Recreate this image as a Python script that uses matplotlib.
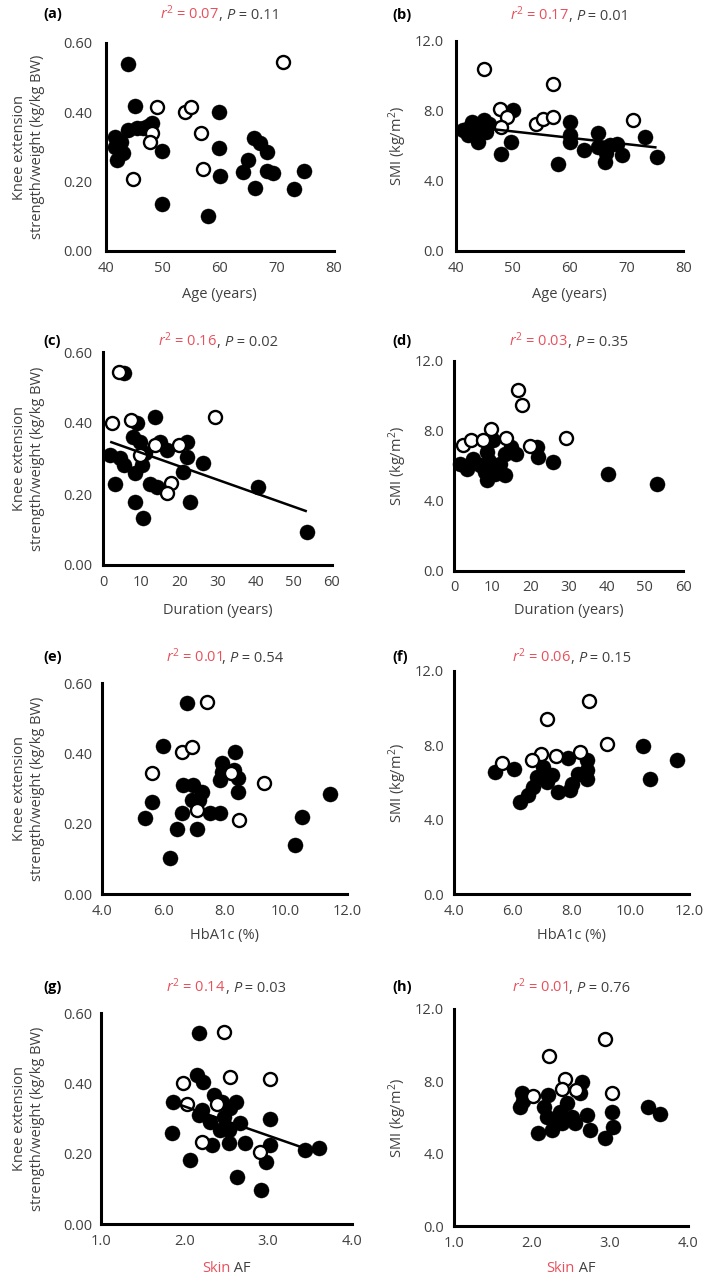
import matplotlib
matplotlib.use("Agg")
import matplotlib.pyplot as plt
import numpy as np
from matplotlib.offsetbox import TextArea, HPacker, AnchoredOffsetbox

plt.rcParams['font.family'] = ['Open Sans', 'DejaVu Sans']
plt.rcParams['mathtext.fontset'] = 'custom'
plt.rcParams['mathtext.rm'] = 'Open Sans'
plt.rcParams['mathtext.it'] = 'Open Sans:italic'

# ---------------- data ----------------
# (a) Age vs knee extension
a_fill_x = [44.0, 45.2, 41.7, 41.7, 42.0, 43.1, 44.0, 45.5, 46.6, 48.1, 49.9, 49.9, 58.0, 59.9, 59.9, 60.0,
            64.0, 65.0, 66.0, 67.0, 68.2, 66.2, 68.2, 69.4, 73.0, 74.8, 42.8, 47.5]
a_fill_y = [0.539, 0.418, 0.330, 0.301, 0.262, 0.282, 0.349, 0.354, 0.354, 0.368, 0.288, 0.136, 0.101, 0.402,
            0.298, 0.217, 0.227, 0.262, 0.327, 0.312, 0.286, 0.183, 0.232, 0.224, 0.179, 0.232, 0.315, 0.360]
a_open_x = [44.9, 48.1, 47.8, 49.1, 53.9, 54.9, 56.8, 57.0, 71.0]
a_open_y = [0.208, 0.341, 0.315, 0.416, 0.402, 0.414, 0.341, 0.236, 0.546]

# (b) Age vs SMI
b_fill_x = [41.3, 42.2, 42.8, 43.1, 44.0, 44.6, 44.9, 45.8, 45.4, 48.0, 49.8, 50.1, 58.0, 60.0, 60.0, 60.0,
            62.6, 65.0, 65.0, 66.3, 66.5, 67.1, 68.3, 69.3, 73.3, 75.3, 42.0]
b_fill_y = [6.90, 6.62, 7.38, 7.28, 6.24, 6.81, 7.47, 7.28, 6.81, 5.57, 6.24, 8.04, 5.00, 7.38, 6.62, 6.24,
            5.80, 6.73, 5.95, 5.08, 5.62, 6.05, 6.14, 5.48, 6.52, 5.40, 7.00]
b_open_x = [45.0, 57.05, 47.8, 49.0, 48.0, 54.1, 55.3, 57.05, 71.2]
b_open_y = [10.42, 9.53, 8.14, 7.63, 7.09, 7.24, 7.57, 7.63, 7.47]
b_fit = [8.65, -0.0363]  # intercept, slope

# (c) Duration vs knee extension
c_fill_x = [5.3, 13.6, 8.8, 7.9, 9.6, 14.9, 16.6, 21.9, 21.9, 1.8, 4.4, 5.3, 10.1, 8.3, 10.9, 26.2, 21.0,
            3.1, 12.3, 14.0, 8.3, 22.7, 10.3, 40.7, 53.4]
c_fill_y = [0.540, 0.416, 0.399, 0.361, 0.347, 0.347, 0.324, 0.347, 0.305, 0.310, 0.301, 0.282, 0.282, 0.258,
            0.315, 0.286, 0.263, 0.228, 0.228, 0.221, 0.178, 0.177, 0.132, 0.221, 0.094]
c_open_x = [4.2, 2.2, 7.2, 29.3, 9.5, 13.6, 19.9, 17.7, 16.8]
c_open_y = [0.545, 0.399, 0.408, 0.416, 0.310, 0.338, 0.338, 0.230, 0.202]
c_fit = [0.354, -0.0038]

# (d) Duration vs SMI
d_fill_x = [1.5, 3.3, 5.0, 8.5, 10.2, 8.1, 8.5, 10.7, 13.3, 13.3, 15.0, 16.3, 12.0, 21.6, 22.0, 26.0, 40.4,
            53.1, 6.7, 9.0]
d_fill_y = [6.12, 5.84, 6.41, 6.79, 7.46, 5.64, 5.17, 5.55, 5.45, 6.70, 7.08, 6.70, 6.12, 7.08, 6.50, 6.22,
            5.55, 4.98, 6.03, 6.30]
d_open_x = [16.8, 17.7, 9.5, 2.2, 4.3, 7.4, 13.6, 19.9, 29.4]
d_open_y = [10.32, 9.46, 8.13, 7.21, 7.46, 7.46, 7.59, 7.11, 7.59]

# (e) HbA1c vs knee extension
e_fill_x = [6.78, 6.01, 8.35, 7.92, 7.92, 8.30, 7.86, 8.46, 8.43, 6.66, 6.99, 7.27, 6.94, 5.63, 5.41, 6.61,
            7.54, 7.86, 6.45, 7.12, 6.23, 11.45, 10.53, 10.31, 7.18]
e_fill_y = [0.543, 0.421, 0.405, 0.372, 0.348, 0.353, 0.325, 0.329, 0.291, 0.310, 0.310, 0.291, 0.268, 0.263,
            0.216, 0.230, 0.232, 0.230, 0.184, 0.184, 0.103, 0.285, 0.220, 0.140, 0.268]
e_open_x = [7.43, 6.61, 6.94, 5.63, 8.22, 9.28, 7.12, 8.49]
e_open_y = [0.548, 0.405, 0.419, 0.344, 0.344, 0.317, 0.239, 0.211]

# (f) HbA1c vs SMI
f_fill_x = [5.40, 6.04, 10.44, 11.58, 10.67, 6.25, 6.53, 6.70, 6.82, 7.04, 7.16, 7.33, 7.55, 7.95, 8.01,
            7.89, 8.52, 8.52, 8.52, 8.23, 6.90]
f_fill_y = [6.57, 6.75, 7.94, 7.23, 6.21, 4.95, 5.31, 5.76, 6.30, 6.83, 6.03, 6.39, 5.49, 5.58, 5.94,
            7.34, 6.66, 6.21, 7.19, 6.48, 6.30]
f_open_x = [8.61, 7.16, 9.22, 8.29, 7.47, 6.95, 6.64, 5.62]
f_open_y = [10.38, 9.43, 8.09, 7.64, 7.41, 7.55, 7.19, 7.05]

# (g) Skin AF vs knee extension
g_fill_x = [2.18, 2.15, 2.22, 1.87, 1.85, 2.07, 2.21, 2.17, 2.35, 2.31, 2.33, 2.45, 2.47, 2.55, 2.62, 2.53,
            2.53, 2.67, 2.73, 2.63, 3.02, 3.02, 2.98, 2.92, 3.44, 3.61, 2.43]
g_fill_y = [0.543, 0.424, 0.405, 0.348, 0.260, 0.182, 0.325, 0.310, 0.367, 0.291, 0.225, 0.348, 0.305, 0.329,
            0.348, 0.268, 0.230, 0.287, 0.230, 0.135, 0.298, 0.225, 0.177, 0.097, 0.211, 0.216, 0.268]
g_open_x = [2.47, 2.55, 3.02, 1.98, 2.03, 2.39, 2.21, 2.90]
g_open_y = [0.548, 0.419, 0.413, 0.401, 0.342, 0.342, 0.234, 0.206]
g_fit = [0.501, -0.083]

# (h) Skin AF vs SMI
h_fill_x = [1.87, 1.85, 2.64, 2.21, 2.15, 2.19, 2.08, 2.25, 2.30, 2.36, 2.45, 2.38, 2.51, 2.55, 2.70, 2.74,
            2.62, 3.02, 3.04, 2.94, 3.49, 3.64, 1.88]
h_fill_y = [7.34, 6.60, 7.98, 7.25, 6.60, 6.05, 5.13, 5.31, 5.86, 6.32, 6.79, 5.68, 6.05, 5.68, 6.14, 5.31,
            7.34, 6.32, 5.49, 4.85, 6.60, 6.19, 6.90]
h_open_x = [2.94, 2.22, 2.42, 2.39, 2.57, 2.01, 3.03]
h_open_y = [10.33, 9.40, 8.11, 7.56, 7.52, 7.19, 7.34]

# statistics text
r2_vals = ["0.07", "0.17", "0.16", "0.03", "0.01", "0.06", "0.14", "0.01"]
p_vals = ["0.11", "0.01", "0.02", "0.35", "0.54", "0.15", "0.03", "0.76"]
panel_tags = ["(a)", "(b)", "(c)", "(d)", "(e)", "(f)", "(g)", "(h)"]

knee_ticks = [0.0, 0.2, 0.4, 0.6]
knee_labels = ["0.00", "0.20", "0.40", "0.60"]
smi_ticks = [0.0, 4.0, 8.0, 12.0]
smi_labels = ["0.0", "4.0", "8.0", "12.0"]
age_ticks = [40, 50, 60, 70, 80]
dur_ticks = [0, 10, 20, 30, 40, 50, 60]
hba_ticks = [4, 6, 8, 10, 12]
hba_labels = ["4.0", "6.0", "8.0", "10.0", "12.0"]
af_ticks = [1, 2, 3, 4]
af_labels = ["1.0", "2.0", "3.0", "4.0"]

knee_label = "Knee extension\nstrength/weight (kg/kg BW)"
smi_label = "SMI (kg/m$^2$)"

# ---------------- style ----------------
W, H = 709, 1277
RED = "#e8505b"
GRAY = "#404040"
FS = 10.5

fig = plt.figure(figsize=(W / 100, H / 100), dpi=100)

# panel boxes in pixels: left, top, right, bottom ; title y ; xlabel y
boxes = [
    (105.5, 43, 334, 251, 14, 295),
    (455.7, 41, 683.3, 251, 15, 295),
    (103.3, 352, 332, 565, 341, 611),
    (454.3, 361, 683, 570.5, 341, 611),
    (101.7, 683.3, 347, 894, 657, 935),
    (454, 671, 689, 894, 657, 935),
    (100.7, 1013.3, 351.7, 1224, 987, 1268),
    (454, 1009, 688, 1226, 987, 1268),
]

panels = [
    (a_fill_x, a_fill_y, a_open_x, a_open_y, None, "knee", age_ticks, [str(t) for t in age_ticks], [("Age (years)", GRAY, "normal")]),
    (b_fill_x, b_fill_y, b_open_x, b_open_y, b_fit, "smi", age_ticks, [str(t) for t in age_ticks], [("Age (years)", GRAY, "normal")]),
    (c_fill_x, c_fill_y, c_open_x, c_open_y, c_fit, "knee", dur_ticks, [str(t) for t in dur_ticks], [("Duration (years)", GRAY, "normal")]),
    (d_fill_x, d_fill_y, d_open_x, d_open_y, None, "smi", dur_ticks, [str(t) for t in dur_ticks], [("Duration (years)", GRAY, "normal")]),
    (e_fill_x, e_fill_y, e_open_x, e_open_y, None, "knee", hba_ticks, hba_labels, [("HbA1c (%)", GRAY, "normal")]),
    (f_fill_x, f_fill_y, f_open_x, f_open_y, None, "smi", hba_ticks, hba_labels, [("HbA1c (%)", GRAY, "normal")]),
    (g_fill_x, g_fill_y, g_open_x, g_open_y, g_fit, "knee", af_ticks, af_labels, [("Skin", RED, "normal"), (" AF", GRAY, "normal")]),
    (h_fill_x, h_fill_y, h_open_x, h_open_y, None, "smi", af_ticks, af_labels, [("Skin", RED, "normal"), (" AF", GRAY, "normal")]),
]


def packed_text(parts, x_px, y_px, fontsize=FS):
    children = [TextArea(t, textprops=dict(color=c, fontsize=fontsize, fontstyle=st)) for t, c, st in parts]
    box = HPacker(children=children, align="baseline", pad=0, sep=0)
    anch = AnchoredOffsetbox(loc="center", child=box, pad=0, borderpad=0, frameon=False,
                             bbox_to_anchor=(x_px / W, 1 - y_px / H),
                             bbox_transform=fig.transFigure)
    fig.add_artist(anch)


for i, (box, pan) in enumerate(zip(boxes, panels)):
    l, t, r, b, ty, xly = box
    fx, fy, ox, oy, fit, kind, xt, xtl, xlab = pan
    ax = fig.add_axes([l / W, 1 - b / H, (r - l) / W, (b - t) / H])
    ax.scatter(fx, fy, s=118, c="black", edgecolors="black", linewidths=0.3, zorder=3, clip_on=False)
    ax.scatter(ox, oy, s=88, facecolors="white", edgecolors="black", linewidths=1.7, zorder=4, clip_on=False)
    if fit is not None:
        allx = np.concatenate([fx, ox])
        xs = np.array([allx.min(), allx.max()])
        ax.plot(xs, fit[0] + fit[1] * xs, color="black", lw=1.8, zorder=5, solid_capstyle="butt")
    ax.set_xlim(xt[0], xt[-1])
    ax.set_xticks(xt)
    ax.set_xticklabels(xtl)
    if kind == "knee":
        ax.set_ylim(0, 0.6)
        ax.set_yticks(knee_ticks)
        ax.set_yticklabels(knee_labels)
        ypad = (l - 92) * 0.72
    else:
        ax.set_ylim(0, 12)
        ax.set_yticks(smi_ticks)
        ax.set_yticklabels(smi_labels)
        ypad = (l - 444) * 0.72
    for s in ["top", "right"]:
        ax.spines[s].set_visible(False)
    for s in ["left", "bottom"]:
        ax.spines[s].set_linewidth(2.2)
        ax.spines[s].set_color("black")
        ax.spines[s].set_capstyle("projecting")
    ax.tick_params(axis="y", length=0, pad=ypad, labelsize=FS, labelcolor=GRAY)
    ax.tick_params(axis="x", length=0, pad=7, labelsize=FS, labelcolor=GRAY)
    ax.patch.set_alpha(0)

    cx = (l + r) / 2
    # title with statistics
    packed_text([("$r^2$ = " + r2_vals[i], RED, "normal"), (", ", GRAY, "normal"),
                 ("P", GRAY, "italic"), (" = " + p_vals[i], GRAY, "normal")], cx, ty)
    # panel tag
    tagx = 43 if i % 2 == 0 else 392
    fig.text(tagx / W, 1 - ty / H, panel_tags[i], fontsize=FS, fontweight="bold", color="black",
             ha="left", va="center")
    # x label
    packed_text(xlab, cx, xly)
    # y label
    ylx = 28.5 if kind == "knee" else 398
    fig.text(ylx / W, 1 - ((t + b) / 2) / H, knee_label if kind == "knee" else smi_label,
             rotation=90, ha="center", va="center", multialignment="center",
             fontsize=FS, color=GRAY, linespacing=1.2)

fig.savefig("out.png", dpi=100)
